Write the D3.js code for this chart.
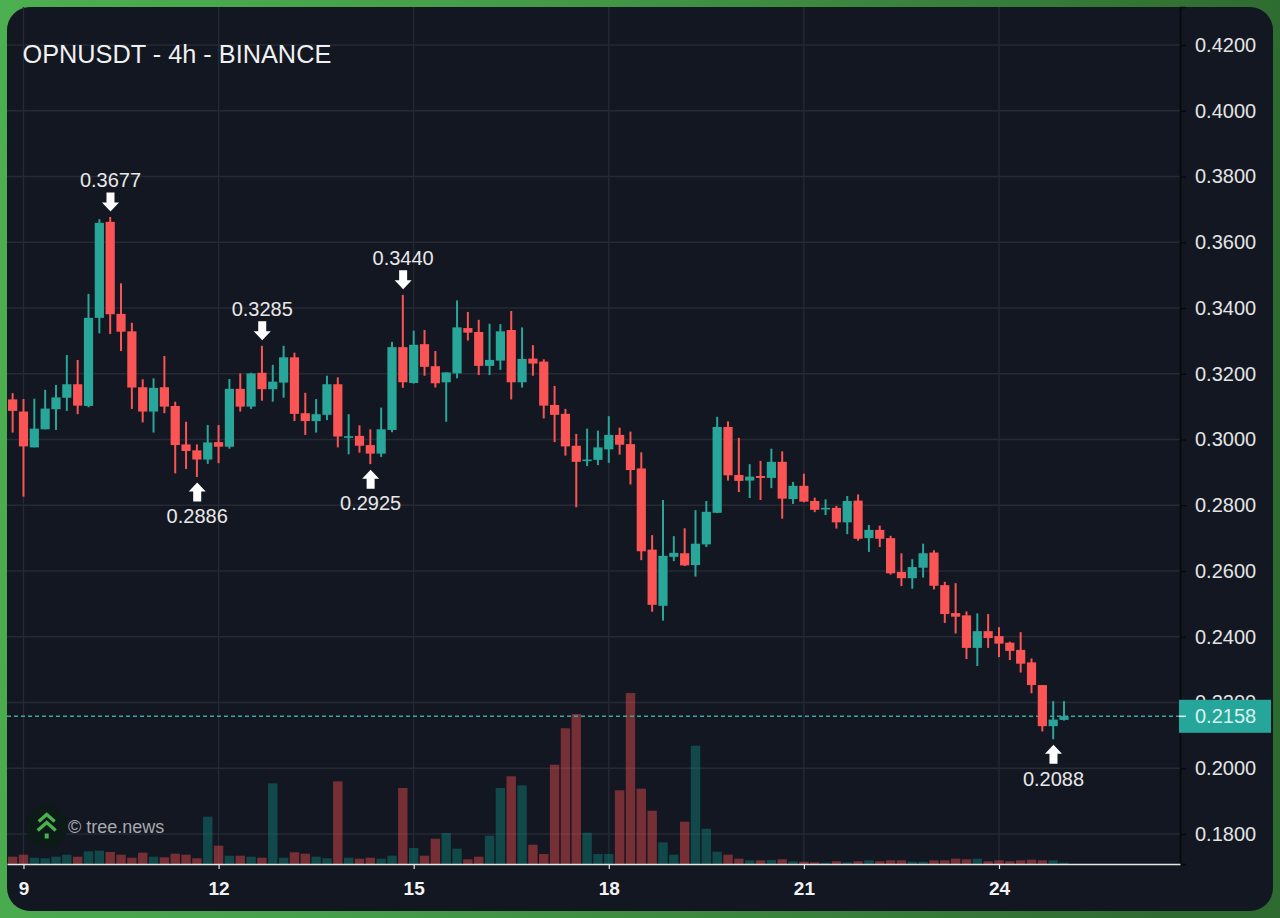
<!DOCTYPE html>
<html>
<head>
<meta charset="utf-8">
<title>OPNUSDT - 4h - BINANCE</title>
<script src="https://cdn.jsdelivr.net/npm/d3@7"></script>
<style>
    html, body { margin: 0; padding: 0; background: #3f8f43; }
    svg { display: block; }
    text { font-family: "Liberation Sans", Arial, sans-serif; }
</style>
</head>
<body>
<svg id="chart" width="1280" height="918"></svg>
<script>
// candles are 4h, one array per field
var opens = [.3122,.3085,.2976,.3031,.3092,.3127,.3168,.3102,.3370,.3662,.3382,.3329,.3159,.3085,.3159,.3102,.2985,.2967,.2939,.2992,
    .2978,.3154,.3100,.3203,.3153,.3173,.3250,.3080,.3056,.3075,.3168,.3007,.3011,.2983,.2957,.3029,.3281,.3172,.3290,.3223,
    .3174,.3201,.3339,.3327,.3224,.3240,.3333,.3174,.3246,.3237,.3105,.3078,.2981,.2936,.2938,.2970,.3014,.2986,.2912,.2665,
    .2494,.2643,.2654,.2618,.2681,.2777,.3038,.2892,.2875,.2889,.2883,.2932,.2819,.2859,.2813,.2788,.2792,.2748,.2814,.2700,
    .2725,.2700,.2597,.2578,.2610,.2656,.2557,.2472,.2465,.2366,.2417,.2402,.2382,.2360,.2322,.2253,.2128,.2147];
var closes = [.3087,.2979,.3033,.3094,.3128,.3168,.3103,.3370,.3659,.3381,.3328,.3158,.3085,.3157,.3100,.2983,.2965,.2939,.2991,.2978,
    .3154,.3100,.3201,.3153,.3176,.3250,.3078,.3056,.3077,.3168,.3009,.3010,.2981,.2957,.3031,.3281,.3174,.3288,.3221,.3171,
    .3204,.3341,.3325,.3224,.3242,.3329,.3174,.3245,.3231,.3103,.3075,.2979,.2932,.2939,.2976,.3014,.2984,.2907,.2660,.2497,
    .2646,.2655,.2617,.2683,.2780,.3038,.2891,.2874,.2887,.2883,.2932,.2820,.2859,.2811,.2786,.2792,.2748,.2813,.2698,.2725,
    .2698,.2593,.2578,.2612,.2654,.2555,.2469,.2461,.2366,.2417,.2396,.2379,.2357,.2318,.2253,.2128,.2148,.2158];
var highs = [.3141,.3123,.3124,.3151,.3166,.3257,.3242,.3443,.3670,.3677,.3475,.3355,.3183,.3186,.3254,.3115,.3054,.2985,.3044,.3044,
    .3184,.3201,.3203,.3285,.3227,.3285,.3264,.3142,.3123,.3194,.3189,.3077,.3043,.3031,.3097,.3297,.3440,.3331,.3333,.3269,
    .3204,.3423,.3388,.3364,.3352,.3351,.3391,.3341,.3287,.3244,.3163,.3093,.3017,.3033,.3027,.3071,.3036,.3024,.2961,.2709,
    .2816,.2706,.2730,.2785,.2813,.3069,.3055,.3005,.2925,.2935,.2972,.2964,.2871,.2896,.2823,.2818,.2798,.2828,.2833,.2740,
    .2738,.2707,.2654,.2636,.2683,.2663,.2567,.2563,.2477,.2471,.2469,.2429,.2385,.2414,.2334,.2253,.2204,.2204];
var lows = [.3021,.2826,.2976,.3031,.3029,.3087,.3077,.3098,.3323,.3321,.3269,.3093,.3052,.3021,.3080,.2897,.2910,.2886,.2926,.2928,
    .2972,.3085,.3093,.3118,.3115,.3127,.3056,.3014,.3021,.3059,.2976,.2955,.2960,.2925,.2947,.3022,.3157,.3170,.3194,.3158,
    .3054,.3186,.3301,.3196,.3196,.3212,.3122,.3158,.3194,.3064,.2992,.2951,.2794,.2919,.2922,.2929,.2954,.2863,.2633,.2476,
    .2449,.2630,.2615,.2583,.2673,.2776,.2875,.2840,.2822,.2816,.2852,.2759,.2804,.2809,.2779,.2770,.2729,.2712,.2692,.2658,
    .2673,.2589,.2554,.2546,.2580,.2544,.2442,.2410,.2332,.2311,.2366,.2338,.2329,.2291,.2228,.2112,.2088,.2145];
var volumes = [7.3,9.3,6.3,5.7,7.3,9.3,7.3,12.7,13.3,12,9.3,6.3,11.3,7.3,6.7,10.3,9.3,5.7,47.3,18.3,
    8.3,8.3,7.3,6.3,80.7,6.3,11.7,10.3,7.3,5.7,82.7,6.3,5.3,6.3,5.3,8.3,76,16,8.3,25.3,
    31,15.3,4.7,7.3,28.3,76,87.7,78.7,19.3,10,99.3,135.7,150,31.3,10,10,73.7,171,75.3,53.3,
    21.7,9.3,42.3,118.3,35.3,12.3,9.3,5.3,3.7,3.7,4,4.7,2.7,2.3,1.7,1.3,2.7,1.7,2.7,3.7,
    2.7,3.7,3.7,2.3,2.3,3.7,3.7,5.3,4.7,5.3,2.7,3.7,2.7,3.7,4.3,3.7,3.7,1.3];

var priceTicks = [.18,.20,.22,.24,.26,.28,.30,.32,.34,.36,.38,.40,.42];
var dayTickIndex = [1,19,37,55,73,91];
var dayTickLabels = ["9","12","15","18","21","24"];

// high / low callouts: candle index, kind, value
var markerIndex = [9,17,23,33,36,96];
var markerKind = ["high","low","high","low","high","low"];
var markerValue = [.3677,.2886,.3285,.2925,.3440,.2088];

var title = "OPNUSDT - 4h - BINANCE";
var watermark = "\u00a9 tree.news";

var UP = "#28a699", DOWN = "#fb5454";
var UP_VOL = "rgba(15,140,128,.42)", DOWN_VOL = "rgba(255,82,82,.42)";
var GRID = "#262a35";

var svg = d3.select("#chart");

var defs = svg.append("defs");
var grad = defs.append("linearGradient").attr("id", "frame")
    .attr("x1", 0).attr("y1", 0).attr("x2", 1).attr("y2", .1);
grad.append("stop").attr("offset", 0).attr("stop-color", "#4caf50");
grad.append("stop").attr("offset", .35).attr("stop-color", "#469f4a");
grad.append("stop").attr("offset", 1).attr("stop-color", "#2e6b30");
defs.append("clipPath").attr("id", "plot").append("rect")
    .attr("x", 7).attr("y", 7).attr("width", 1173).attr("height", 857);

svg.append("rect").attr("width", 1280).attr("height", 918).attr("fill", "url(#frame)");
svg.append("rect").attr("x", 7).attr("y", 7).attr("width", 1266).attr("height", 904)
    .attr("rx", 23).attr("fill", "#131722");

var x = d3.scaleLinear().domain([-0.52, 107.7]).range([7, 1180]);
var y = d3.scaleLinear().domain([.17087, .43156]).range([864, 7]);
var vol = d3.scaleLinear().domain([0, 171]).range([864, 693]);

var idx = d3.range(opens.length);
function isUp(i) { return closes[i] >= opens[i]; }

// grid
var plot = svg.append("g").attr("clip-path", "url(#plot)");
plot.append("g").selectAll("line").data(priceTicks).enter().append("line")
    .attr("x1", 7).attr("x2", 1180)
    .attr("y1", function(d) { return y(d); }).attr("y2", function(d) { return y(d); })
    .attr("stroke", GRID).attr("stroke-width", 1.3);
plot.append("g").selectAll("line").data(dayTickIndex).enter().append("line")
    .attr("y1", 7).attr("y2", 864)
    .attr("x1", function(d) { return x(d); }).attr("x2", function(d) { return x(d); })
    .attr("stroke", GRID).attr("stroke-width", 1.3);

// volume
plot.append("g").selectAll("rect").data(idx).enter().append("rect")
    .attr("x", function(i) { return x(i) - 4.7; })
    .attr("width", 9.4)
    .attr("y", function(i) { return vol(volumes[i]); })
    .attr("height", function(i) { return 864 - vol(volumes[i]); })
    .attr("fill", function(i) { return isUp(i) ? UP_VOL : DOWN_VOL; });

// last price line
var last = closes[closes.length - 1];
plot.append("line").attr("x1", 7).attr("x2", 1180)
    .attr("y1", y(last)).attr("y2", y(last))
    .attr("stroke", "#3fa69b").attr("stroke-width", 1.5).attr("stroke-dasharray", "4,3");

// wicks then bodies
plot.append("g").selectAll("line").data(idx).enter().append("line")
    .attr("x1", function(i) { return x(i); }).attr("x2", function(i) { return x(i); })
    .attr("y1", function(i) { return y(highs[i]); })
    .attr("y2", function(i) { return y(lows[i]); })
    .attr("stroke", function(i) { return isUp(i) ? UP : DOWN; })
    .attr("stroke-width", 2);
plot.append("g").selectAll("rect").data(idx).enter().append("rect")
    .attr("x", function(i) { return x(i) - 4.6; })
    .attr("width", 9.2)
    .attr("y", function(i) { return y(Math.max(opens[i], closes[i])); })
    .attr("height", function(i) { return Math.max(1.6, Math.abs(y(opens[i]) - y(closes[i]))); })
    .attr("fill", function(i) { return isUp(i) ? UP : DOWN; });

// markers
var markers = svg.append("g");
markerIndex.forEach(function(i, n) {
    var down = markerKind[n] == "high";
    var px = x(i) + .3, py = y(markerValue[n]);
    var dir = down ? -1 : 1;
    var tip = py + dir * 5.5;
    var neck = tip + dir * 9;
    var tail = tip + dir * 19;
    markers.append("path")
        .attr("d", d3.line()([[px, tip], [px + 8.5, neck], [px + 4, neck], [px + 4, tail],
            [px - 4, tail], [px - 4, neck], [px - 8.5, neck]]) + "Z")
        .attr("fill", "#fff");
    markers.append("text")
        .attr("x", px).attr("y", py + dir * 38 + 1)
        .attr("dy", ".36em")
        .attr("text-anchor", "middle")
        .attr("font-size", 20)
        .attr("fill", "#e8e8e8")
        .text(markerValue[n].toFixed(4));
});

// axes
var yAxis = svg.append("g").attr("transform", "translate(1180,0)")
    .call(d3.axisRight(y).tickValues(priceTicks).tickFormat(d3.format(".4f")).tickSize(6).tickPadding(9));
yAxis.select(".domain").attr("stroke", "#05070b").attr("stroke-width", 1.5);
yAxis.selectAll(".tick line").attr("stroke", "#05070b").attr("stroke-width", 1.2);
yAxis.selectAll("text").attr("font-size", 20).attr("font-family", "Liberation Sans").attr("fill", "#e4e4e4");

var xAxis = svg.append("g").attr("transform", "translate(0,864)")
    .call(d3.axisBottom(x).tickValues(dayTickIndex)
        .tickFormat(function(d, i) { return dayTickLabels[i]; })
        .tickSize(5).tickPadding(13).tickSizeOuter(0));
xAxis.select(".domain").attr("stroke", "#e6e6e6").attr("stroke-width", 1.6);
xAxis.selectAll(".tick line").attr("stroke", "#e6e6e6").attr("stroke-width", 1.2);
xAxis.selectAll("text").attr("font-size", 19).attr("font-weight", "bold")
    .attr("font-family", "Liberation Sans").attr("fill", "#f2f2f2");

// last price tag
svg.append("rect").attr("x", 1179).attr("y", y(last) - 16.5).attr("width", 92).attr("height", 33).attr("fill", "#26a69a");
svg.append("line").attr("x1", 1179).attr("x2", 1186).attr("y1", y(last)).attr("y2", y(last))
    .attr("stroke", "#d8f2ee").attr("stroke-width", 1.5);
svg.append("text").attr("x", 1195).attr("y", y(last)).attr("dy", ".36em")
    .attr("font-size", 20).attr("fill", "#d8f2ee").text(last.toFixed(4));

// title and watermark
svg.append("text").attr("x", 22.5).attr("y", 63).attr("font-size", 25.3).attr("fill", "#f0f0f0").text(title);

var logo = svg.append("g").attr("transform", "translate(46.7,826.5)");
logo.append("circle").attr("r", 21).attr("fill", "#0c1a18");
logo.append("path").attr("d", "M-8,-5L0,-12L8,-5").attr("fill", "none")
    .attr("stroke", "#4caf50").attr("stroke-width", 3.4);
logo.append("path").attr("d", "M-9,4L0,-4L9,4").attr("fill", "none")
    .attr("stroke", "#4caf50").attr("stroke-width", 3.4);
logo.append("rect").attr("x", -2).attr("y", 7).attr("width", 4).attr("height", 5).attr("fill", "#4caf50");
svg.append("text").attr("x", 68).attr("y", 833).attr("font-size", 18).attr("fill", "#a7a9ae").text(watermark);
</script>
</body>
</html>
